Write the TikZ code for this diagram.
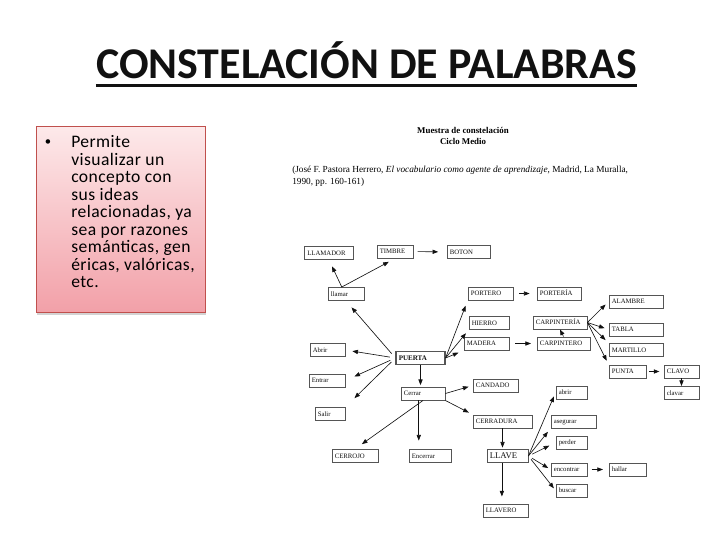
\documentclass[tikz,border=0pt]{standalone}
\usepackage{fontspec}
\setmainfont{Carlito}
\newfontfamily\scanfont{Liberation Serif}
\newfontfamily\panelfont[LetterSpace=2.5]{Carlito}
\usepackage{tikz}
\usetikzlibrary{arrows.meta,shadows}
\definecolor{INK}{HTML}{111111}
\definecolor{EDGE}{HTML}{555555}
\definecolor{PANTOP}{HTML}{FDE9EA}
\definecolor{PANBOT}{HTML}{F2A0A8}
\definecolor{PANLINE}{HTML}{C0504D}

\begin{document}
\begin{tikzpicture}[
  x=0.025cm, y=-0.025cm,
  box/.style={draw=EDGE, line width=0.55pt, fill=white, inner xsep=2pt, inner ysep=0pt,
    minimum height=0.33cm, text width=#1, align=left, text height=3.5pt, text depth=0.4pt,
    font=\scanfont\fontsize{4.8}{5}\selectfont, text=INK},
  box/.default=1cm,
  arr/.style={-{Triangle[length=4pt,width=3pt]}, line width=0.45pt, INK},
  head/.style={font=\scanfont\bfseries\fontsize{6.3}{7.4}\selectfont, align=center},
  cite/.style={font=\scanfont\fontsize{6.6}{8.2}\selectfont, align=left, anchor=north west, inner sep=0pt},
]
\useasboundingbox (0,0) rectangle (728,546);

% ===== slide title and bullet panel =====
\node[font=\bfseries\fontsize{31.2}{36}\selectfont, text=INK, inner sep=0pt] (title) at (366.5,60.5) {CONSTELACIÓN DE PALABRAS};
\draw[INK, line width=2.1pt] ([yshift=-5pt]title.base west) -- ([yshift=-5pt]title.base east);

\node[draw=PANLINE, line width=0.5pt, top color=PANTOP, bottom color=PANBOT,
  minimum width=4.225cm, minimum height=4.65cm, anchor=north west,
  drop shadow={opacity=0.35, shadow xshift=0.6pt, shadow yshift=-2pt}] (panel) at (36,126) {};
\node[font=\fontsize{9}{10}\selectfont, inner sep=0pt] (dot) at (48,143) {•};
\node[font=\panelfont\fontsize{12.5}{12.45}\selectfont, align=left, anchor=north west, inner sep=0pt] (ptext) at (71,135.5)
  {Permite\\visualizar un\\concepto con\\sus ideas\\relacionadas, ya\\sea por razones\\semánticas, gen\\éricas, valóricas,\\etc.};

% ===== scanned sample: header =====
\node[head] (hd) at (463,136) {Muestra de constelación\\Ciclo Medio};
\node[cite] (src) at (292,166)
  {(José F. Pastora Herrero, \emph{El vocabulario como agente de aprendizaje}, Madrid, La Muralla,\\1990, pp. 160-161)};

% ===== top row =====
\node[box=1.085cm] (llamador) at (329,253) {LLAMADOR};
\node[box=0.76cm] (timbre) at (395,251.5) {TIMBRE};
\node[box=0.935cm] (boton) at (468.5,252) {BOTON};
\node[box=0.76cm] (llamar) at (346,294) {llamar};

% ===== PUERTA and its left words =====
\node[box=1.085cm, line width=0.8pt, font=\scanfont\bfseries\fontsize{5}{5}\selectfont] (puerta) at (420.5,358) {PUERTA};
\node[box=0.735cm] (abrirA) at (327.5,350) {Abrir};
\node[box=0.76cm] (entrar) at (327,380.5) {Entrar};
\node[box=0.61cm] (salir) at (330,414) {Salir};

% ===== materials, trades =====
\node[box=0.985cm] (portero) at (490.5,293.5) {PORTERO};
\node[box=0.96cm] (porteria) at (559,293.5) {PORTERÍA};
\node[box=0.86cm] (hierro) at (489,323) {HIERRO};
\node[box=0.985cm] (madera) at (486.5,343.5) {MADERA};
\node[box=1.21cm] (carpinteria) at (560,322.5) {CARPINTERÍA};
\node[box=1.185cm] (carpintero) at (563.5,343.5) {CARPINTERO};
\node[box=1.21cm] (alambre) at (636,301.5) {ALAMBRE};
\node[box=1.21cm] (tabla) at (636,329.5) {TABLA};
\node[box=1.21cm] (martillo) at (636,350) {MARTILLO};
\node[box=0.785cm] (punta) at (627.5,371.5) {PUNTA};
\node[box=0.735cm] (clavo) at (681.5,371.5) {CLAVO};
\node[box=0.735cm] (clavar) at (681.5,393) {clavar};

% ===== Cerrar branch =====
\node[box=0.96cm] (cerrar) at (423,393.5) {Cerrar};
\node[box=0.985cm] (candado) at (495.5,385.5) {CANDADO};
\node[box=1.335cm] (cerradura) at (502.5,421.5) {CERRADURA};
\node[box=1.01cm] (cerrojo) at (355,456) {CERROJO};
\node[box=0.91cm] (encerrar) at (430,456) {Encerrar};
\node[box=0.885cm, font=\scanfont\fontsize{6.2}{6.2}\selectfont, text height=4.3pt] (llave) at (507.5,456) {LLAVE};
\node[box=0.985cm] (llavero) at (505.5,510.5) {LLAVERO};

% ===== LLAVE verbs =====
\node[box=0.635cm] (abrirB) at (571.5,392.5) {abrir};
\node[box=0.985cm] (asegurar) at (573.5,421.5) {asegurar};
\node[box=0.635cm] (perder) at (571.5,442.5) {perder};
\node[box=0.76cm] (encontrar) at (569,469.5) {encontrar};
\node[box=0.785cm] (hallar) at (627.5,469.5) {hallar};
\node[box=0.635cm] (buscar) at (571.5,490.5) {buscar};

% ===== arrows =====
\draw[arr, shorten >=5pt] ([xshift=-3pt]llamar.north) -- (llamador.south);
\draw[arr, shorten >=5pt] ([xshift=-3pt]llamar.north) -- (timbre.south);
\draw[arr, shorten <=3pt, shorten >=6pt] (timbre.east) -- (boton.west);

\draw[arr, shorten <=4pt, shorten >=6pt] (puerta.west) -- (llamar.south);
\draw[arr, shorten <=4pt, shorten >=5pt] (puerta.west) -- (abrirA.east);
\draw[arr, shorten <=4pt, shorten >=7pt] (puerta.west) -- (entrar.east);
\draw[arr, shorten <=4pt, shorten >=9pt] (puerta.west) -- (salir.north east);

\draw[arr, shorten >=4pt] (puerta.east) -- (portero.south west);
\draw[arr, shorten >=3pt] (puerta.east) -- (hierro.south west);
\draw[arr, shorten >=4pt] (puerta.east) -- (madera.south west);
\draw[arr, shorten <=4pt, shorten >=5pt] (portero.east) -- (porteria.west);
\draw[arr, shorten <=4pt, shorten >=4pt] (madera.east) -- (carpintero.west);
\draw[arr] (carpintero.north) -- (carpinteria.south);

\draw[arr, shorten >=3pt] (carpinteria.east) -- (alambre.west);
\draw[arr, shorten >=3pt] (carpinteria.east) -- (tabla.west);
\draw[arr, shorten >=3pt] (carpinteria.east) -- (martillo.north west);
\draw[arr, shorten >=3pt] (carpinteria.east) -- (punta.north west);
\draw[arr, shorten <=2pt, shorten >=3pt] (punta.east) -- (clavo.west);
\draw[arr] (clavo.south) -- (clavar.north);

\draw[arr, shorten >=1pt] (puerta.south) -- (puerta.south |- cerrar.north);
\draw[arr, shorten >=3pt] (cerrar.east) -- (candado.west);
\draw[arr, shorten >=3pt] (cerrar.south east) -- (cerradura.north west);
\draw[arr, shorten >=6pt] (cerrar.south) -- (cerrojo.north);
\draw[arr, shorten >=6pt] ([xshift=-3pt]cerrar.south) -- ([xshift=-3pt]cerrar.south |- encerrar.north);

\draw[arr, shorten >=1pt] (cerradura.south) -- (cerradura.south |- llave.north);
\draw[arr, shorten >=5pt] ([xshift=-4pt]llave.south) -- ([xshift=-4pt]llave.south |- llavero.north);

\draw[arr, shorten >=3pt] (llave.east) -- (abrirB.west);
\draw[arr, shorten >=3pt] (llave.east) -- (asegurar.south west);
\draw[arr, shorten <=3pt, shorten >=5pt] (llave.east) -- (perder.west);
\draw[arr, shorten <=3pt, shorten >=2pt] (llave.east) -- (encontrar.west);
\draw[arr, shorten <=3pt, shorten >=2pt] (llave.east) -- (buscar.west);
\draw[arr, shorten <=3pt, shorten >=4pt] (encontrar.east) -- (hallar.west);
\end{tikzpicture}
\end{document}
